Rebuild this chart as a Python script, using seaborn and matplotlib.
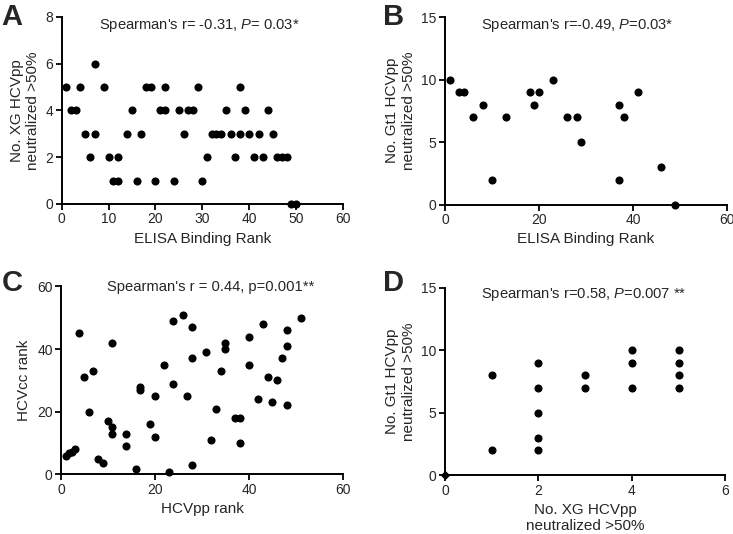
import numpy as np
import pandas as pd
import matplotlib
matplotlib.use("Agg")
import matplotlib.pyplot as plt
import seaborn as sns

# Panel A: ELISA binding rank vs no. XG HCVpp neutralized
a_rank = [1, 4, 9, 18, 19, 22, 29, 38,
          7,
          2, 3, 15, 21, 22, 25, 27, 28, 35, 39, 44,
          5, 7, 14, 17, 26, 32, 33, 34, 36, 38, 40, 42, 45,
          6, 10, 12, 31, 37, 41, 43, 46, 47, 48,
          11, 12, 16, 20, 24, 30,
          49, 50]
a_xg = [5] * 8 + [6] + [4] * 11 + [3] * 13 + [2] * 10 + [1] * 6 + [0] * 2

# Panel B: ELISA binding rank vs no. Gt1 HCVpp neutralized
b_rank = [1, 3, 4, 6, 8, 10, 13, 18, 19, 20, 23, 26, 28, 29, 37, 37, 38, 41, 46, 49]
b_gt1 = [10, 9, 9, 7, 8, 2, 7, 9, 8, 9, 10, 7, 7, 5, 8, 2, 7, 9, 3, 0]

# Panel C: HCVpp rank vs HCVcc rank
c_pp = [1, 1.8, 2.3, 3, 3.9, 4.9, 5.9, 6.9, 7.9, 8.9, 9.9, 10.9, 10.9, 10.9,
        13.9, 13.9, 15.9, 16.9, 16.9, 18.9, 19.9, 19.9, 21.9, 22.9, 23.9, 23.9,
        25.9, 26.9, 27.9, 27.9, 27.9, 30.9, 32, 33, 34, 35, 35, 37, 38, 38,
        40, 40, 42, 43, 44, 45, 46, 47, 48, 48, 48, 51]
c_cc = [6, 6.7, 7.3, 8, 45, 31, 20, 33, 4.9, 3.8, 17, 15, 13, 42,
        13, 9, 1.8, 28, 27, 16, 25, 12, 35, 0.9, 49, 29,
        51, 25, 47, 37, 2.9, 39, 11, 21, 33, 42, 40, 18, 18, 10,
        44, 35, 24, 48, 31, 23, 30, 37, 46, 41, 22, 50]

# Panel D: no. XG vs no. Gt1 HCVpp neutralized
d_xg = [1, 1, 2, 2, 2, 2, 2, 3, 3, 4, 4, 4, 5, 5, 5, 5]
d_gt1 = [8, 2, 9, 7, 5, 3, 2, 8, 7, 10, 9, 7, 10, 9, 8, 7]

sns.set_style("ticks")
plt.rcParams["font.family"] = ["Liberation Sans", "DejaVu Sans"]
plt.rcParams["mathtext.fontset"] = "custom"
plt.rcParams["mathtext.rm"] = "Liberation Sans"
plt.rcParams["mathtext.it"] = "Liberation Sans:italic"

fig = plt.figure(figsize=(7.33, 5.34), dpi=100)
axA = fig.add_axes([0.0842, 0.618, 0.3838, 0.3507])
axB = fig.add_axes([0.607, 0.617, 0.3847, 0.351])
axC = fig.add_axes([0.0832, 0.1116, 0.3847, 0.352])
axD = fig.add_axes([0.607, 0.110, 0.3824, 0.351])

panels = [
    (axA, a_rank, a_xg, (0, 60), np.arange(0, 61, 10), (0, 8), np.arange(0, 9, 2),
     "ELISA Binding Rank", "No. XG HCVpp\nneutralized >50%",
     "Spearman's r= -0.31, $\\mathit{P}$= 0.03*", 0.49, 0.955),
    (axB, b_rank, b_gt1, (0, 60), [0, 20, 40, 60], (0, 15), [0, 5, 10, 15],
     "ELISA Binding Rank", "No. Gt1 HCVpp\nneutralized >50%",
     "Spearman's r=-0.49, $\\mathit{P}$=0.03*", 0.47, 0.955),
    (axC, c_pp, c_cc, (0, 60), [0, 20, 40, 60], (0, 60), [0, 20, 40, 60],
     "HCVpp rank", "HCVcc rank",
     "Spearman's r = 0.44, p=0.001**", 0.53, 0.995),
    (axD, d_xg, d_gt1, (0, 6), [0, 2, 4, 6], (0, 15), [0, 5, 10, 15],
     "No. XG HCVpp\nneutralized >50%", "No. Gt1 HCVpp\nneutralized >50%",
     "Spearman's r=0.58, $\\mathit{P}$=0.007 **", 0.497, 0.962),
]

for ax, x, y, xlim, xt, ylim, yt, xl, yl, txt, tx, ty in panels:
    df = pd.DataFrame({"x": x, "y": y})
    sns.scatterplot(data=df, x="x", y="y", ax=ax, color="black", s=34,
                    linewidth=0, clip_on=False)
    ax.set_xlim(*xlim)
    ax.set_ylim(*ylim)
    ax.set_xticks(xt)
    ax.set_yticks(yt)
    ax.set_xlabel(xl, fontsize=11, labelpad=4)
    ax.set_ylabel(yl, fontsize=11, labelpad=4)
    ax.tick_params(labelsize=10, width=1.3, length=4, color="black", pad=2)
    for side in ["left", "bottom"]:
        ax.spines[side].set_linewidth(1.4)
        ax.spines[side].set_color("black")
    sns.despine(ax=ax)
    ax.text(tx, ty, txt, transform=ax.transAxes, ha="center", va="center",
            fontsize=10.6)

# origin point in panel D drawn as small diamond
axD.scatter([0], [0], marker="D", s=14, color="black", clip_on=False, zorder=5)

for lbl, xp, yp in [("A", 0.002, 0.995), ("B", 0.522, 0.995),
                    ("C", 0.002, 0.497), ("D", 0.522, 0.497)]:
    fig.text(xp, yp, lbl, fontsize=21, fontweight="bold", ha="left", va="top")

fig.savefig("out.png", dpi=100)
